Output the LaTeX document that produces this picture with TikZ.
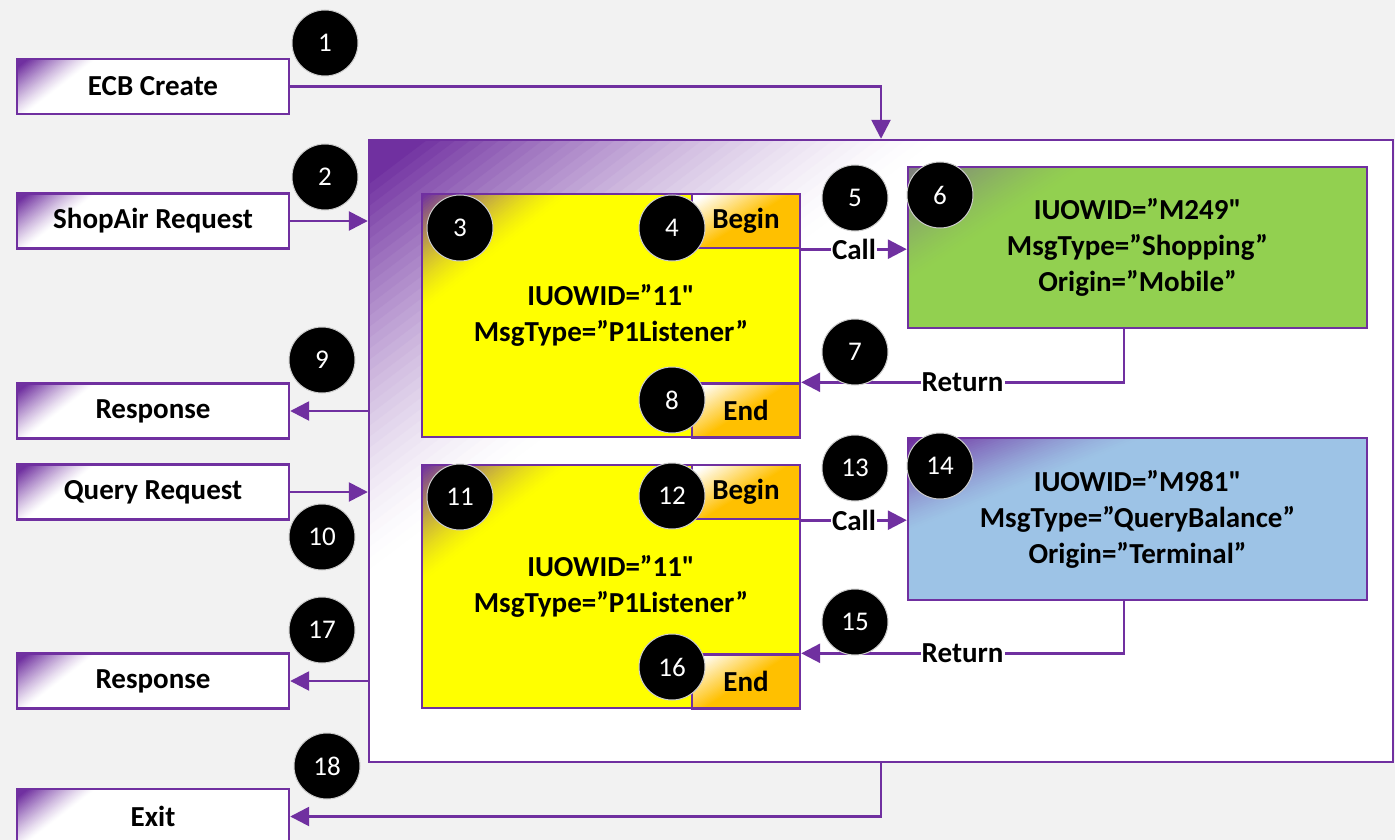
\documentclass[tikz,border=0pt]{standalone}
\usepackage{fontspec}
\setmainfont{Carlito}[Ligatures=TeXOff]
\usetikzlibrary{arrows.meta,calc}
\definecolor{P}{HTML}{7030A0}
\definecolor{bg}{HTML}{F2F2F2}
\definecolor{yel}{HTML}{FFFF00}
\definecolor{org}{HTML}{FFC000}
\definecolor{grn}{HTML}{92D050}
\definecolor{blu}{HTML}{9DC3E6}
\definecolor{gry}{HTML}{7F7F7F}
% corner gradient: #1 W, #2 H, #3 start colour, #4 end colour, #5 dark fraction, #6 gamma
\newcommand\cornergrad[6]{%
  \path (path picture bounding box.north west) coordinate (cgo);
  \foreach \i in {40,39,...,1}{%
    \pgfmathsetmacro\cgu{\i/40}%
    \pgfmathsetmacro\cgt{max(0,(\cgu-#5)/(1-#5))}%
    \pgfmathsetmacro\cgp{100*pow(max(1-\cgt,0.0001),#6)}%
    \fill[#3!\cgp!#4] (cgo) -- ++(\cgu*#1,0) -- ($(cgo)+(0,\cgu*#2)$) -- cycle;
  }%
}
\begin{document}
\begin{tikzpicture}[x=1pt,y=-1pt,
 every node/.style={font=\bfseries\fontsize{29}{36}\selectfont},
 arr/.style={draw=P, line width=2.6pt, -{Triangle[length=19pt,width=19pt]}},
 boxb/.style={draw=P, line width=2.4pt, inner sep=0pt, align=center},
 leftbox/.style={boxb, fill=white, path picture={\cornergrad{80}{62}{P}{white}{0.15}{1.2}}, minimum width=272pt, minimum height=55pt},
 ybox/.style={boxb, fill=yel, path picture={\cornergrad{150}{120}{P}{yel}{0.03}{1.4}}, minimum width=378pt, minimum height=243pt},
 obox/.style={boxb, fill=org, path picture={\cornergrad{100}{62}{white}{org}{0.15}{1}}, minimum width=108pt, minimum height=54pt},
 num/.style={circle, fill=black, draw=gray!40, line width=1pt, minimum size=66pt, inner sep=0pt, text=white, font=\fontsize{27}{30}\selectfont},
 lbl/.style={fill=white, inner sep=1pt}
]
\useasboundingbox (0,0) rectangle (1395,840);
\fill[bg] (0,0) rectangle (1395,840);

% container
\node[boxb, fill=white, path picture={\cornergrad{580}{440}{P}{white}{0.1}{1.5}}, minimum width=1024pt, minimum height=622pt] (cont) at (881,451) {};

% left boxes
\node[leftbox] (ecb) at (153,86.5) {ECB Create};
\node[leftbox] (shop) at (153,221) {ShopAir Request};
\node[leftbox] (resp1) at (153,411) {Response};
\node[leftbox] (query) at (153,492) {Query Request};
\node[leftbox] (resp2) at (153,681) {Response};
\node[leftbox] (exit) at (153,816.5) {Exit};

% yellow boxes
\node[ybox] (y1) at (611,315.5) {IUOWID=”11"\\MsgType=”P1Listener”};
\node[ybox] (y2) at (611,586.5) {IUOWID=”11"\\MsgType=”P1Listener”};
\node[obox] (b1) at (746,221) {Begin};
\node[obox] (e1) at (746,410.5) {End};
\node[obox] (b2) at (746,492) {Begin};
\node[obox] (e2) at (746,681.5) {End};

% called units
\node[boxb, fill=grn, path picture={\cornergrad{180}{115}{gry}{grn}{0.05}{1.3}}, minimum width=459pt, minimum height=161pt] (g) at (1137.5,247.5) {IUOWID=”M249"\\MsgType=”Shopping”\\Origin=”Mobile”};
\node[boxb, fill=blu, path picture={\cornergrad{240}{95}{P}{blu}{0.05}{1.3}}, minimum width=459pt, minimum height=162pt] (bl) at (1137.5,519) {IUOWID=”M981"\\MsgType=”QueryBalance”\\Origin=”Terminal”};

% connectors
\draw[arr] (ecb.east) -| (cont.north);
\draw[arr] (shop.east) -- (shop.east -| cont.west);
\draw[arr] (resp1.east -| cont.west) -- (resp1.east);
\draw[arr] (query.east) -- (query.east -| cont.west);
\draw[arr] (resp2.east -| cont.west) -- (resp2.east);
\draw[arr] (cont.south) |- (exit.east);
\draw[arr] (b1.south east) -- node[lbl]{Call} (b1.south east -| g.west);
\draw[arr] (b2.south east) -- node[lbl]{Call} (b2.south east -| bl.west);
\draw[arr] ([xshift=-13.5pt]g.south) |- node[lbl, pos=0.75]{Return} (e1.north east);
\draw[arr] ([xshift=-13.5pt]bl.south) |- node[lbl, pos=0.75]{Return} (e2.north east);

% numbers
\node[num] (n1) at (325,43) {1};
\node[num] (n2) at (325,177) {2};
\node[num] (n3) at (460,228) {3};
\node[num] (n4) at (672,228) {4};
\node[num] (n5) at (855,198) {5};
\node[num] (n6) at (940,195) {6};
\node[num] (n7) at (855,352) {7};
\node[num] (n8) at (672,400) {8};
\node[num] (n9) at (322,360) {9};
\node[num] (n10) at (322,537) {10};
\node[num] (n11) at (460,497) {11};
\node[num] (n12) at (672,496) {12};
\node[num] (n13) at (855,468) {13};
\node[num] (n14) at (940,466) {14};
\node[num] (n15) at (855,622) {15};
\node[num] (n16) at (672,667) {16};
\node[num] (n17) at (322,630) {17};
\node[num] (n18) at (327,766) {18};
\end{tikzpicture}
\end{document}
